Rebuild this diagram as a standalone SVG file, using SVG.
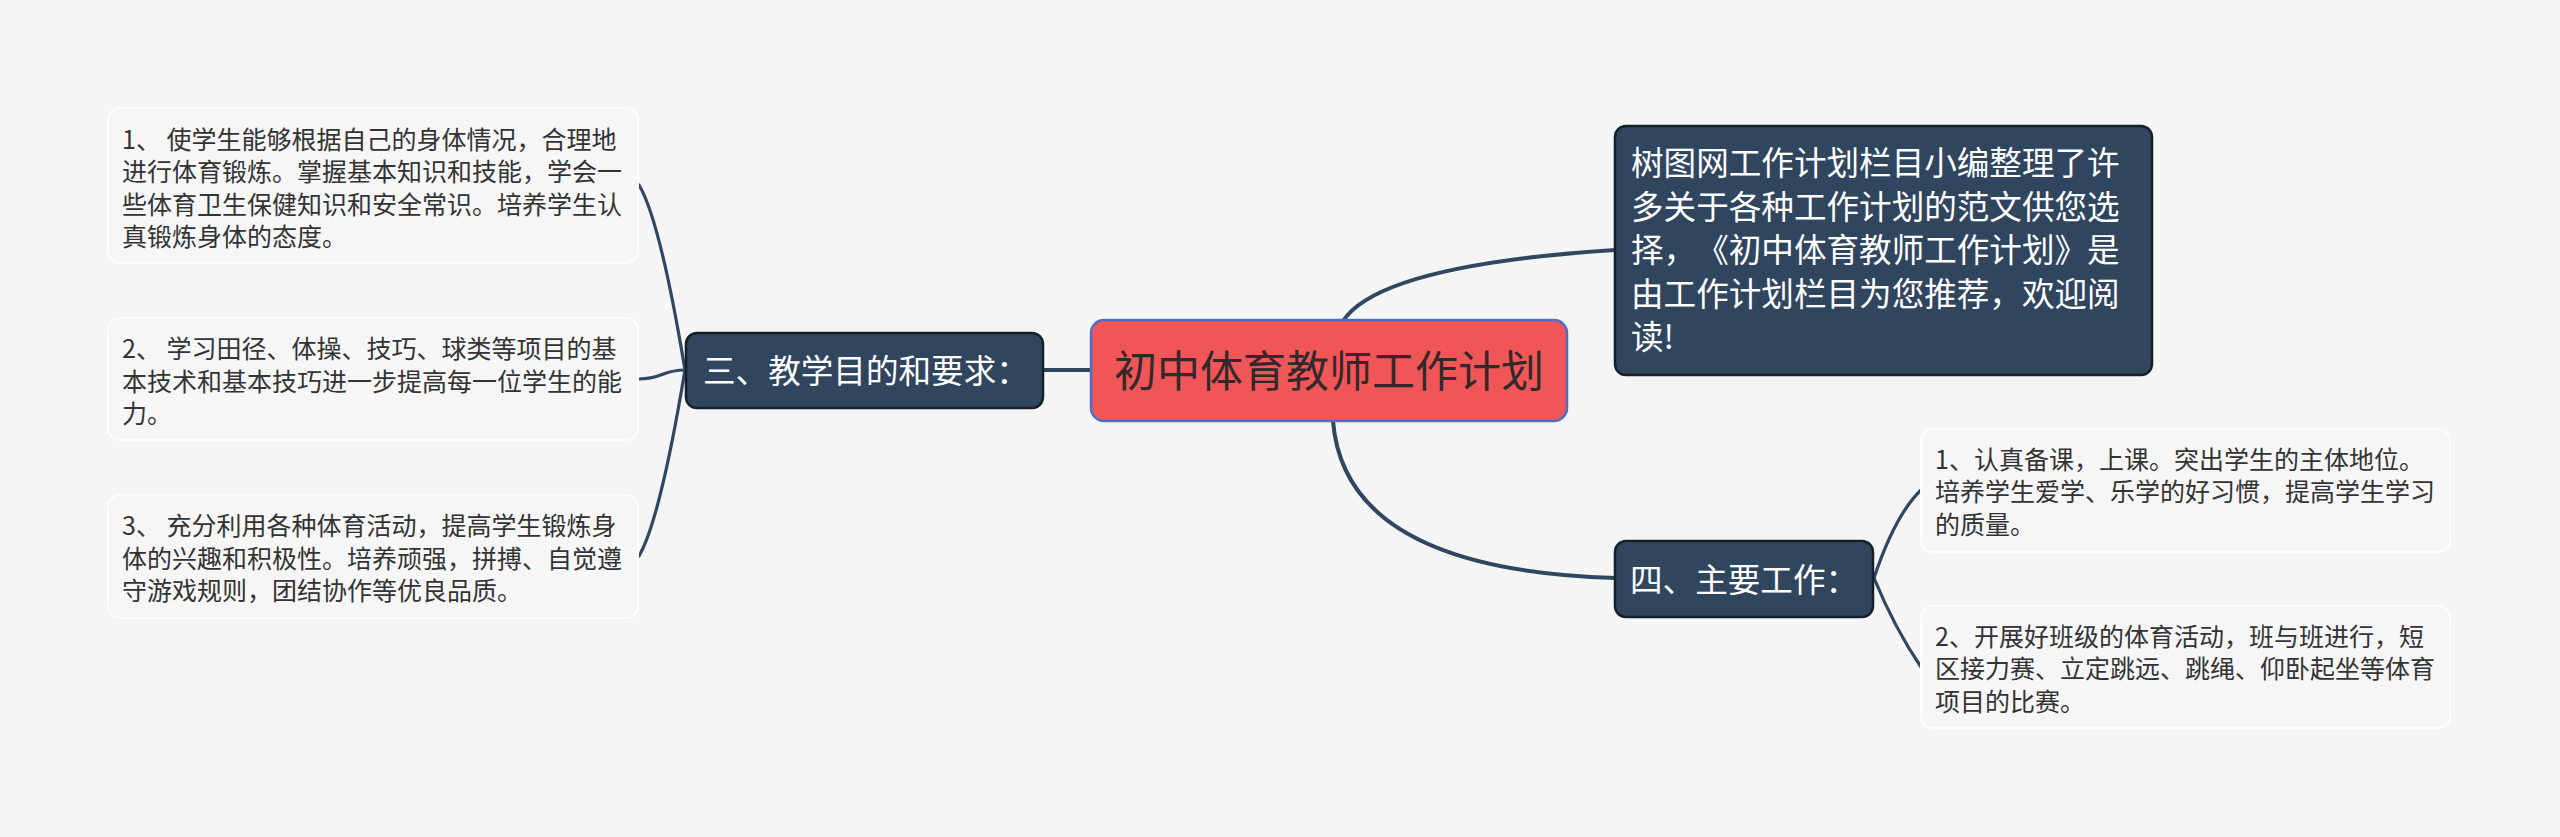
<svg xmlns="http://www.w3.org/2000/svg" width="2560" height="837" viewBox="0 0 2560 837">
<style>
text{font-family:"Noto Sans CJK SC","Noto Sans",sans-serif;text-spacing-trim:space-all;}
.leaf rect{fill:#f6f6f6;stroke:#fdfdfd;stroke-width:2;}
.leaf text{font-size:25px;fill:#333333;}
.sub rect{fill:#30465e;stroke:#16202b;stroke-width:2.5;}
.sub text{font-size:32.6px;fill:#ffffff;}
.conn path{fill:none;stroke:#2f4760;stroke-linecap:round;}
.thick{stroke-width:4;}
.thin{stroke-width:3.2;}
</style>
<rect x="0" y="0" width="2560" height="837" fill="#f5f5f5"/>
<g id="connectors" class="conn">
<path class="thick" d="M1044 370 L1091 370"/>
<path class="thick" d="M1343 321 Q1380 265 1615 250"/>
<path class="thick" d="M1333 421 Q1345 570 1615 578"/>
<path class="thin" d="M685 370 Q660 220 639 185"/>
<path class="thin" d="M685 370 C662 370 662 379 639 379"/>
<path class="thin" d="M685 370 Q660 520 639 556"/>
<path class="thin" d="M1874 578 Q1895 515 1921 490"/>
<path class="thin" d="M1874 578 Q1895 629 1921 667"/>
</g>
<g id="root">
<rect x="1091" y="320" width="476" height="101" rx="13" fill="#f05557" stroke="#4d6fc9" stroke-width="2.5"/>
<text x="1329" y="387" font-size="43" fill="#33282a" text-anchor="middle">初中体育教师工作计划</text>
</g>
<g id="intro" class="sub">
<rect x="1615" y="126" width="537" height="249" rx="11"/>
<text x="1631" y="175">树图网工作计划栏目小编整理了许</text>
<text x="1631" y="218.5">多关于各种工作计划的范文供您选</text>
<text x="1631" y="262">择，《初中体育教师工作计划》是</text>
<text x="1631" y="305.5">由工作计划栏目为您推荐，欢迎阅</text>
<text x="1631" y="349">读!</text>
</g>
<g id="goals" class="sub">
<rect x="686" y="333" width="357" height="75" rx="11"/>
<text x="703" y="382.5">三、教学目的和要求：</text>
</g>
<g id="work" class="sub">
<rect x="1615" y="541" width="258" height="76" rx="11"/>
<text x="1630" y="591.5">四、主要工作：</text>
</g>
<g id="goal1" class="leaf">
<rect x="108" y="108" width="530" height="155" rx="12"/>
<text x="122" y="148.5">1、 使学生能够根据自己的身体情况，合理地</text>
<text x="122" y="181">进行体育锻炼。掌握基本知识和技能，学会一</text>
<text x="122" y="213.5">些体育卫生保健知识和安全常识。培养学生认</text>
<text x="122" y="246">真锻炼身体的态度。</text>
</g>
<g id="goal2" class="leaf">
<rect x="108" y="318" width="530" height="122" rx="12"/>
<text x="122" y="358">2、 学习田径、体操、技巧、球类等项目的基</text>
<text x="122" y="390.5">本技术和基本技巧进一步提高每一位学生的能</text>
<text x="122" y="423">力。</text>
</g>
<g id="goal3" class="leaf">
<rect x="108" y="495" width="530" height="123" rx="12"/>
<text x="122" y="535">3、 充分利用各种体育活动，提高学生锻炼身</text>
<text x="122" y="567.5">体的兴趣和积极性。培养顽强，拼搏、自觉遵</text>
<text x="122" y="600">守游戏规则，团结协作等优良品质。</text>
</g>
<g id="work1" class="leaf">
<rect x="1921" y="429" width="529" height="123" rx="12"/>
<text x="1935" y="468.5">1、认真备课，上课。突出学生的主体地位。</text>
<text x="1935" y="501">培养学生爱学、乐学的好习惯，提高学生学习</text>
<text x="1935" y="533.5">的质量。</text>
</g>
<g id="work2" class="leaf">
<rect x="1921" y="606" width="529" height="122" rx="12"/>
<text x="1935" y="645.5">2、开展好班级的体育活动，班与班进行，短</text>
<text x="1935" y="678">区接力赛、立定跳远、跳绳、仰卧起坐等体育</text>
<text x="1935" y="710.5">项目的比赛。</text>
</g>
</svg>
